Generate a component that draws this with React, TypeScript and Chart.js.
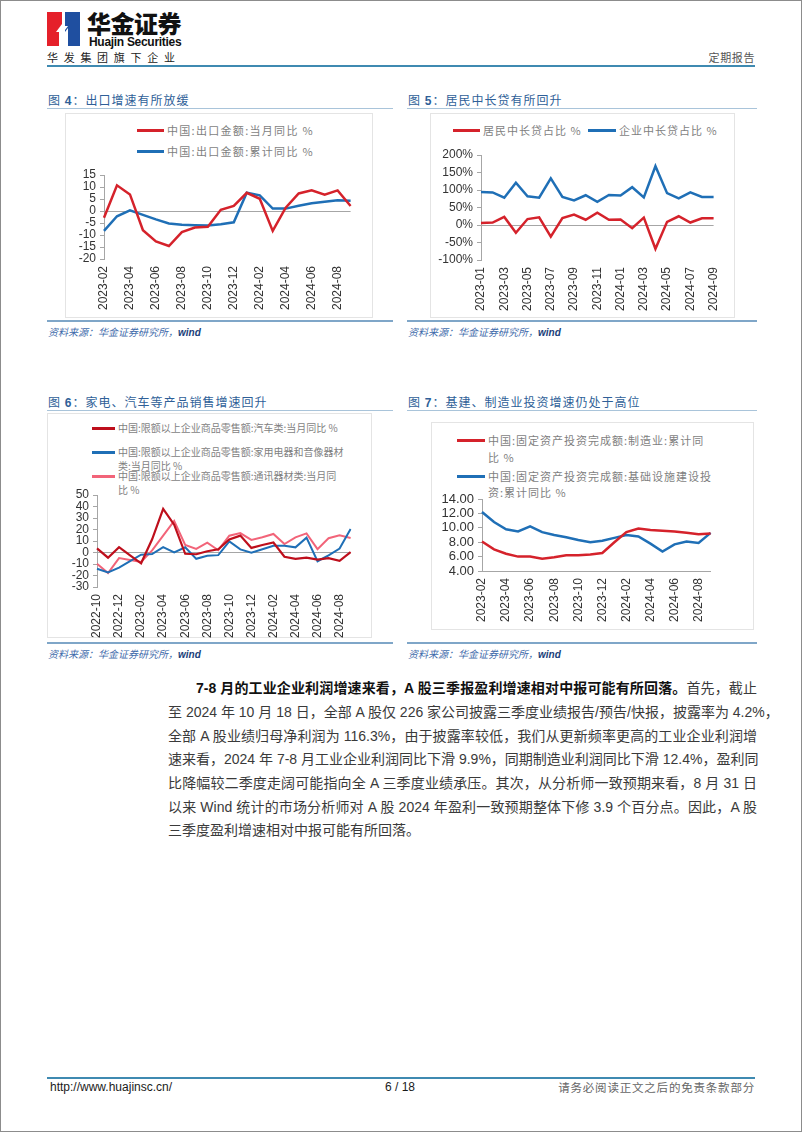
import React, { useEffect, useRef } from 'react';
import { Chart, registerables } from 'chart.js';

Chart.register(...registerables);

// ---------- Data ----------
// 图4 出口
const exportMonths = ['2023-02','2023-03','2023-04','2023-05','2023-06','2023-07','2023-08','2023-09','2023-10','2023-11','2023-12','2024-01','2024-02','2024-03','2024-04','2024-05','2024-06','2024-07','2024-08','2024-09'];
const exportMonthlyYoY = [-2.8, 10.7, 6.9, -8.0, -12.7, -14.6, -8.8, -6.9, -6.6, 0.5, 2.1, 7.6, 5.1, -8.3, 1.4, 7.3, 8.6, 6.8, 8.6, 2.1];
const exportCumYoY = [-8.3, -2.2, 0.3, -1.6, -3.5, -5.2, -5.7, -5.9, -6.0, -5.5, -4.7, 7.6, 6.5, 1.0, 1.0, 2.2, 3.2, 3.9, 4.5, 4.3];
const exportLabels = ['中国:出口金额:当月同比 %', '中国:出口金额:累计同比 %'];

// 图5 中长贷占比
const loanMonths = ['2023-01','2023-02','2023-03','2023-04','2023-05','2023-06','2023-07','2023-08','2023-09','2023-10','2023-11','2023-12','2024-01','2024-02','2024-03','2024-04','2024-05','2024-06','2024-07','2024-08','2024-09'];
const householdLoanShare = [6, 7, 23, -22, 17, 22, -33, 20, 30, 15, 35, 15, 16, -9, 21, -68, 9, 25, 7, 19, 19];
const corporateLoanShare = [94, 93, 78, 121, 82, 78, 133, 80, 70, 85, 66, 86, 84, 108, 79, 168, 91, 76, 93, 80, 80];
const loanLabels = ['居民中长贷占比 %', '企业中长贷占比 %'];

// 图6 商品零售
const retailMonths = ['2022-10','2022-11','2022-12','2023-01','2023-02','2023-03','2023-04','2023-05','2023-06','2023-07','2023-08','2023-09','2023-10','2023-11','2023-12','2024-01','2024-02','2024-03','2024-04','2024-05','2024-06','2024-07','2024-08','2024-09'];
const autoRetailYoY = [3.6, -4.5, 4.6, -2.5, -9.4, 11.5, 38.0, 24.2, -1.1, -1.5, 1.1, 2.8, 11.4, 14.7, 4.0, 6.5, 8.7, -3.7, -5.6, -4.4, -6.2, -4.9, -7.3, 0.4];
const applianceRetailYoY = [-14.1, -17.3, -13.1, -7.5, -1.9, -1.4, 4.7, 0.1, 4.5, -5.5, -2.9, -2.3, 9.6, 2.7, -0.1, 2.8, 5.8, 5.8, 4.5, 12.9, -7.6, -2.4, 3.4, 20.5];
const telecomRetailYoY = [-9.7, -17.9, -4.9, -6.5, -8.2, 1.8, 14.6, 27.4, 6.6, 3.1, 8.6, 2.0, 14.6, 16.9, 11.0, 13.2, 16.1, 7.4, 13.1, 16.6, 2.9, 12.4, 14.9, 12.6];
const retailLabels = [
  ['中国:限额以上企业商品零售额:汽车类:当月同比 %'],
  ['中国:限额以上企业商品零售额:家用电器和音像器材', '类:当月同比 %'],
  ['中国:限额以上企业商品零售额:通讯器材类:当月同', '比 %'],
];

// 图7 固定资产投资
const fixedInvMonths = ['2023-02','2023-03','2023-04','2023-05','2023-06','2023-07','2023-08','2023-09','2023-10','2023-11','2023-12','2024-01','2024-02','2024-03','2024-04','2024-05','2024-06','2024-07','2024-08','2024-09'];
const manufacturingInvYoY = [8.1, 7.0, 6.4, 6.0, 6.0, 5.7, 5.9, 6.2, 6.2, 6.3, 6.5, 8.0, 9.4, 9.9, 9.7, 9.6, 9.5, 9.3, 9.1, 9.2];
const infraInvYoY = [12.2, 10.8, 9.8, 9.5, 10.2, 9.4, 9.0, 8.7, 8.3, 8.0, 8.2, 8.6, 9.0, 8.8, 7.8, 6.7, 7.7, 8.1, 7.9, 9.3];
const fixedInvLabels = [
  ['中国:固定资产投资完成额:制造业:累计同', '比 %'],
  ['中国:固定资产投资完成额:基础设施建设投', '资:累计同比 %'],
];

// ---------- Styles ----------
const RED = '#d5222b';
const BLUE = '#1f6fb6';
const DARKRED = '#be0f1c';
const PINK = '#f26479';
const NUM_FONT = '"Liberation Sans", Arial, sans-serif';
const CJK_FONT = '"Noto Sans CJK SC", sans-serif';
const MIX_FONT = '"Liberation Sans", "Noto Sans CJK SC", sans-serif';

type Series = { label: string; data: number[]; color: string; width?: number };
type Spec = {
  left: number; top: number; width: number; height: number;
  yW: number; xH: number; padTop: number; padRight: number;
  labels: string[]; series: Series[];
  yMin: number; yMax: number; yStep: number; yFmt: (v: number) => string;
  zeroLine: boolean; xBorder: boolean; yFont: number;
};

const spec4: Spec = {
  left: 66, top: 163, width: 306, height: 153, yW: 38, xH: 57, padTop: 12, padRight: 14,
  labels: exportMonths,
  series: [
    { label: exportLabels[0], data: exportMonthlyYoY, color: RED },
    { label: exportLabels[1], data: exportCumYoY, color: BLUE },
  ],
  yMin: -20, yMax: 15, yStep: 5, yFmt: (v) => String(v), zeroLine: true, xBorder: false, yFont: 12,
};

const spec5: Spec = {
  left: 432, top: 143, width: 303, height: 173, yW: 49, xH: 56, padTop: 12, padRight: 14,
  labels: loanMonths,
  series: [
    { label: loanLabels[0], data: householdLoanShare, color: RED },
    { label: loanLabels[1], data: corporateLoanShare, color: BLUE },
  ],
  yMin: -100, yMax: 200, yStep: 50, yFmt: (v) => v + '%', zeroLine: true, xBorder: false, yFont: 12,
};

const spec6: Spec = {
  left: 50, top: 483, width: 322, height: 157, yW: 47, xH: 53, padTop: 12, padRight: 10,
  labels: retailMonths,
  series: [
    { label: retailLabels[0].join(''), data: autoRetailYoY, color: DARKRED, width: 2.2 },
    { label: retailLabels[1].join(''), data: applianceRetailYoY, color: BLUE, width: 2 },
    { label: retailLabels[2].join(''), data: telecomRetailYoY, color: PINK, width: 2 },
  ],
  yMin: -30, yMax: 50, yStep: 10, yFmt: (v) => String(v), zeroLine: true, xBorder: false, yFont: 12,
};

const spec7: Spec = {
  left: 432, top: 487, width: 300, height: 141, yW: 50, xH: 57, padTop: 12, padRight: 12,
  labels: fixedInvMonths,
  series: [
    { label: fixedInvLabels[0].join(''), data: manufacturingInvYoY, color: RED },
    { label: fixedInvLabels[1].join(''), data: infraInvYoY, color: BLUE },
  ],
  yMin: 4, yMax: 14, yStep: 2, yFmt: (v) => v.toFixed(2), zeroLine: false, xBorder: true, yFont: 13,
};

function LineChart({ spec }: { spec: Spec }) {
  const ref = useRef<HTMLCanvasElement>(null);
  useEffect(() => {
    const s = spec;
    const chart = new Chart(ref.current as HTMLCanvasElement, {
      type: 'line',
      data: {
        labels: s.labels,
        datasets: s.series.map((d) => ({
          label: d.label,
          data: d.data,
          borderColor: d.color,
          backgroundColor: d.color,
          borderWidth: d.width ?? 2.5,
          pointRadius: 0,
          tension: 0,
          fill: false,
        })),
      },
      options: {
        animation: false,
        responsive: false,
        maintainAspectRatio: false,
        layout: { padding: { top: s.padTop, right: s.padRight, left: 0, bottom: 0 } },
        plugins: { legend: { display: false }, tooltip: { enabled: false } },
        scales: {
          x: {
            grid: { display: false, drawTicks: false },
            border: { display: s.xBorder, color: '#a6a6a6', width: 1 },
            ticks: {
              autoSkip: false,
              maxRotation: 90,
              minRotation: 90,
              padding: 7,
              color: '#333',
              font: { family: NUM_FONT, size: 12 },
              callback: (_v: any, i: number) => (i % 2 === 0 ? s.labels[i] : ''),
            },
            afterFit: (scale: any) => { scale.height = s.xH; },
          },
          y: {
            min: s.yMin,
            max: s.yMax,
            ticks: {
              stepSize: s.yStep,
              autoSkip: false,
              padding: 4,
              color: '#333',
              font: { family: NUM_FONT, size: s.yFont },
              callback: (v: any) => s.yFmt(Number(v)),
            },
            grid: {
              drawTicks: true,
              tickLength: 4,
              tickColor: '#a6a6a6',
              color: (ctx: any) => (s.zeroLine && ctx.tick && ctx.tick.value === 0 ? '#a6a6a6' : 'rgba(0,0,0,0)'),
            },
            border: { display: true, color: '#a6a6a6', width: 1 },
            afterFit: (scale: any) => { scale.width = s.yW; },
          },
        },
      },
    } as any);
    return () => chart.destroy();
  }, [spec]);
  return (
    <canvas
      ref={ref}
      width={spec.width}
      height={spec.height}
      style={{ position: 'absolute', left: spec.left, top: spec.top, width: spec.width, height: spec.height }}
    />
  );
}

function LegendItem(p: { x: number; y: number; len: number; color: string; lines: string[]; size: number; spacing: number; lineH: number }) {
  return (
    <>
      <div style={{ position: 'absolute', left: p.x, top: p.y - 1.5, width: p.len, height: 3, background: p.color }} />
      <div
        style={{
          position: 'absolute', left: p.x + p.len + 3, top: p.y - p.lineH / 2, fontSize: p.size,
          letterSpacing: p.spacing, lineHeight: p.lineH + 'px', color: '#7f7f7f', whiteSpace: 'nowrap', fontFamily: CJK_FONT,
        }}
      >
        {p.lines.map((l, i) => <div key={i}>{l}</div>)}
      </div>
    </>
  );
}

function Panel(p: { x: number; w: number; titleY: number; num: string; title: string; bottomY: number; box: [number, number, number, number] }) {
  return (
    <>
      <div style={{ position: 'absolute', left: p.x + 1, top: p.titleY - 9, height: 18, lineHeight: '18px', fontSize: 12, letterSpacing: 1, color: '#2f5f98', fontFamily: CJK_FONT, whiteSpace: 'nowrap' }}>
        图 <span style={{ fontFamily: NUM_FONT, fontWeight: 700 }}>{p.num}</span>：{p.title}
      </div>
      <div style={{ position: 'absolute', left: p.x, top: p.titleY + 7.5, width: p.w, height: 1.5, background: '#a9c4da' }} />
      <div style={{ position: 'absolute', left: p.box[0], top: p.box[1], width: p.box[2] - p.box[0], height: p.box[3] - p.box[1], border: '1px solid #e4e4e4', boxSizing: 'border-box' }} />
      <div style={{ position: 'absolute', left: p.x, top: p.bottomY, width: p.w, height: 1.5, background: '#7fa6c8' }} />
      <div style={{ position: 'absolute', left: p.x + 1, top: p.bottomY + 5, fontSize: 10, lineHeight: '14px', fontStyle: 'italic', color: '#3f6cab', fontFamily: CJK_FONT, letterSpacing: 0, whiteSpace: 'nowrap' }}>
        资料来源：华金证券研究所，<span style={{ fontFamily: NUM_FONT, fontWeight: 700, color: '#213f7a' }}>wind</span>
      </div>
    </>
  );
}

export default function App() {
  const para: string[] = [
    '至 2024 年 10 月 18 日，全部 A 股仅 226 家公司披露三季度业绩报告/预告/快报，披露率为 4.2%，',
    '全部 A 股业绩归母净利润为 116.3%，由于披露率较低，我们从更新频率更高的工业企业利润增',
    '速来看，2024 年 7-8 月工业企业利润同比下滑 9.9%，同期制造业利润同比下滑 12.4%，盈利同',
    '比降幅较二季度走阔可能指向全 A 三季度业绩承压。其次，从分析师一致预期来看，8 月 31 日',
    '以来 Wind 统计的市场分析师对 A 股 2024 年盈利一致预期整体下修 3.9 个百分点。因此，A 股',
  ];
  const lineH = 23.7;
  const justify: React.CSSProperties = { textAlign: 'justify', textAlignLast: 'justify', whiteSpace: 'nowrap', height: lineH };
  return (
    <div style={{ position: 'absolute', left: 0, top: 0, width: 802, height: 1133, background: '#fff', overflow: 'hidden', fontFamily: MIX_FONT }}>
      {/* page border */}
      <div style={{ position: 'absolute', left: 0, top: 0, width: 802, height: 1132, border: '1px solid #8c8c8c', boxSizing: 'border-box' }} />

      {/* header */}
      <svg style={{ position: 'absolute', left: 47, top: 12 }} width={33} height={34} viewBox="0 0 33 34">
        <rect x={0} y={0} width={15} height={34} fill="#e5202a" />
        <rect x={18} y={0} width={15} height={34} fill="#1f4fa0" />
        <polygon points="15,0 18,0 18,14 21,14 15,22 15,34 12,34 12,20 9,20 15,12" fill="#fff" />
        <polygon points="18,20 21,16 21,34 18,34" fill="#fff" />
      </svg>
      <div style={{ position: 'absolute', left: 87, top: 9, fontSize: 24, lineHeight: '28px', fontWeight: 900, color: '#111', fontFamily: CJK_FONT, letterSpacing: -0.5, whiteSpace: 'nowrap' }}>华金证券</div>
      <div style={{ position: 'absolute', left: 89, top: 35, fontSize: 12, lineHeight: '14px', fontWeight: 700, color: '#111', fontFamily: NUM_FONT, letterSpacing: -0.3, whiteSpace: 'nowrap' }}>Huajin Securities</div>
      <div style={{ position: 'absolute', left: 47, top: 50, fontSize: 11, lineHeight: '14px', color: '#222', fontFamily: CJK_FONT, letterSpacing: 5.7, whiteSpace: 'nowrap' }}>华发集团旗下企业</div>
      <div style={{ position: 'absolute', right: 802 - 755, top: 50, fontSize: 11, lineHeight: '14px', color: '#555', fontFamily: CJK_FONT, letterSpacing: 0.6, whiteSpace: 'nowrap' }}>定期报告</div>
      <div style={{ position: 'absolute', left: 47, top: 65, width: 708, height: 2, background: '#3f8ab1' }} />

      {/* panels */}
      <Panel x={47} w={346} titleY={100} num="4" title="出口增速有所放缓" bottomY={320} box={[65, 113, 373, 318]} />
      <Panel x={407} w={350} titleY={100} num="5" title="居民中长贷有所回升" bottomY={320} box={[430, 113, 735, 318]} />
      <Panel x={47} w={346} titleY={402} num="6" title="家电、汽车等产品销售增速回升" bottomY={642} box={[47, 413, 372, 638]} />
      <Panel x={407} w={350} titleY={402} num="7" title="基建、制造业投资增速仍处于高位" bottomY={642} box={[431, 422, 754, 630]} />

      {/* legends */}
      <LegendItem x={137} y={130} len={27} color={RED} lines={[exportLabels[0]]} size={11} spacing={1.3} lineH={14} />
      <LegendItem x={137} y={151} len={27} color={BLUE} lines={[exportLabels[1]]} size={11} spacing={1.3} lineH={14} />

      <LegendItem x={453} y={130} len={27} color={RED} lines={[loanLabels[0]]} size={11} spacing={1} lineH={14} />
      <LegendItem x={588} y={130} len={28} color={BLUE} lines={[loanLabels[1]]} size={11} spacing={1} lineH={14} />

      <LegendItem x={92} y={428} len={23} color={DARKRED} lines={retailLabels[0]} size={10} spacing={0} lineH={14} />
      <LegendItem x={92} y={452} len={23} color={BLUE} lines={retailLabels[1]} size={10} spacing={0} lineH={14} />
      <LegendItem x={92} y={476} len={23} color={PINK} lines={retailLabels[2]} size={10} spacing={0} lineH={13.5} />

      <LegendItem x={457} y={440} len={28} color={RED} lines={fixedInvLabels[0]} size={11} spacing={1} lineH={17} />
      <LegendItem x={457} y={476} len={28} color={BLUE} lines={fixedInvLabels[1]} size={11} spacing={1} lineH={16} />

      {/* charts */}
      <LineChart spec={spec4} />
      <LineChart spec={spec5} />
      <LineChart spec={spec6} />
      <LineChart spec={spec7} />

      {/* paragraph */}
      <div style={{ position: 'absolute', left: 168, top: 689 - lineH / 2, width: 589, fontSize: 14, lineHeight: lineH + 'px', color: '#3a3a3a', fontFamily: MIX_FONT }}>
        <div style={{ ...justify, paddingLeft: 28 }}>
          <span style={{ fontWeight: 700, color: '#111' }}>7-8 月的工业企业利润增速来看，A 股三季报盈利增速相对中报可能有所回落。</span>首先，截止
        </div>
        {para.map((l, i) => <div key={i} style={justify}>{l}</div>)}
        <div style={{ height: lineH, whiteSpace: 'nowrap' }}>三季度盈利增速相对中报可能有所回落。</div>
      </div>

      {/* footer */}
      <div style={{ position: 'absolute', left: 47, top: 1077, width: 708, height: 1.5, background: '#3f8ab1' }} />
      <div style={{ position: 'absolute', left: 50, top: 1080, fontSize: 12, lineHeight: '14px', color: '#1a1a1a', fontFamily: NUM_FONT, whiteSpace: 'nowrap' }}>http://www.huajinsc.cn/</div>
      <div style={{ position: 'absolute', left: 370, width: 60, textAlign: 'center', top: 1080, fontSize: 12, lineHeight: '14px', color: '#1a1a1a', fontFamily: NUM_FONT }}>6 / 18</div>
      <div style={{ position: 'absolute', right: 802 - 755, top: 1080, fontSize: 11.5, lineHeight: '14px', color: '#666', fontFamily: CJK_FONT, letterSpacing: 0.8, whiteSpace: 'nowrap' }}>请务必阅读正文之后的免责条款部分</div>
    </div>
  );
}
